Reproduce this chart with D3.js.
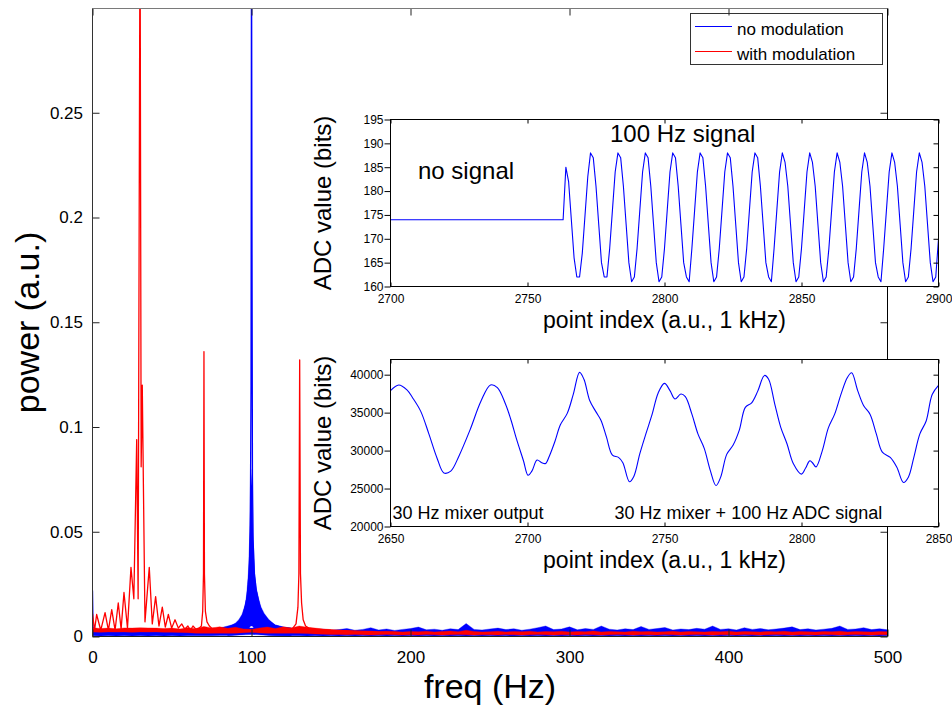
<!DOCTYPE html>
<html lang="en">
  <head>
    <meta charset="UTF-8" />
    <title>Power spectrum with ADC insets</title>
    <script src="https://cdn.jsdelivr.net/npm/d3@7"></script>
    <style>
      body { margin: 0; background: #fff; }
      text { font-family: "Liberation Sans", Arial, Helvetica, sans-serif; fill: #000; }
      .frame { fill: none; stroke: #222; stroke-width: 1px; }
    </style>
  </head>
  <body>
    <svg id="chart" width="952" height="706"></svg>
    <script>
    // ---------- main spectrum data ----------
    var xTicks = [0, 100, 200, 300, 400, 500];
    var yTicks = [0, 0.05, 0.1, 0.15, 0.2, 0.25];
    var yTickLabels = ["0", "0.05", "0.1", "0.15", "0.2", "0.25"];

    // noise floor, 5 Hz grid
    var bandFreq = [
      0, 5, 10, 15, 20, 25, 30, 35, 40, 45,
      50, 55, 60, 65, 70, 75, 80, 85, 90, 95,
      100, 105, 110, 115, 120, 125, 130, 135, 140, 145,
      150, 155, 160, 165, 170, 175, 180, 185, 190, 195,
      200, 205, 210, 215, 220, 225, 230, 235, 240, 245,
      250, 255, 260, 265, 270, 275, 280, 285, 290, 295,
      300, 305, 310, 315, 320, 325, 330, 335, 340, 345,
      350, 355, 360, 365, 370, 375, 380, 385, 390, 395,
      400, 405, 410, 415, 420, 425, 430, 435, 440, 445,
      450, 455, 460, 465, 470, 475, 480, 485, 490, 495,
      500];
    var blueLow = [
      0.0003, 0.0002, 0.0003, 0.0002, 0.0003, 0.0002, 0.0003, 0.0002, 0.0003, 0.0002,
      0.0003, 0.0002, 0.0003, 0.0003, 0.0004, 0.0004, 0.0005, 0.0005, 0.0006, 0.0008,
      0.0010, 0.0008, 0.0006, 0.0005, 0.0004, 0.0003, 0.0003, 0.0002, 0.0003, 0.0002,
      0.0003, 0.0002, 0.0003, 0.0002, 0.0003, 0.0002, 0.0003, 0.0002, 0.0003, 0.0002,
      0.0003, 0.0002, 0.0003, 0.0002, 0.0003, 0.0002, 0.0003, 0.0002, 0.0003, 0.0002,
      0.0003, 0.0002, 0.0003, 0.0002, 0.0003, 0.0002, 0.0003, 0.0002, 0.0003, 0.0002,
      0.0003, 0.0002, 0.0003, 0.0002, 0.0003, 0.0002, 0.0003, 0.0002, 0.0003, 0.0002,
      0.0003, 0.0002, 0.0003, 0.0002, 0.0003, 0.0002, 0.0003, 0.0002, 0.0003, 0.0002,
      0.0003, 0.0002, 0.0003, 0.0002, 0.0003, 0.0002, 0.0003, 0.0002, 0.0003, 0.0002,
      0.0003, 0.0002, 0.0003, 0.0002, 0.0003, 0.0002, 0.0003, 0.0002, 0.0003, 0.0002,
      0.0003];
    var blueHigh = [
      0.0045, 0.0028, 0.0030, 0.0026, 0.0032, 0.0029, 0.0035, 0.0027, 0.0031, 0.0028,
      0.0030, 0.0027, 0.0031, 0.0030, 0.0033, 0.0036, 0.0040, 0.0050, 0.0060, 0.0040,
      0.0040, 0.0040, 0.0070, 0.0055, 0.0045, 0.0040, 0.0036, 0.0034, 0.0032, 0.0035,
      0.0030, 0.0033, 0.0038, 0.0030, 0.0034, 0.0042, 0.0031, 0.0036, 0.0029, 0.0034,
      0.0038, 0.0045, 0.0032, 0.0035, 0.0030, 0.0037, 0.0033, 0.0062, 0.0034, 0.0031,
      0.0036, 0.0040, 0.0033, 0.0037, 0.0030, 0.0035, 0.0042, 0.0050, 0.0033, 0.0036,
      0.0046, 0.0032, 0.0038, 0.0034, 0.0050, 0.0035, 0.0031, 0.0037, 0.0033, 0.0048,
      0.0034, 0.0038, 0.0043, 0.0031, 0.0036, 0.0033, 0.0039, 0.0035, 0.0050, 0.0034,
      0.0037, 0.0031, 0.0042, 0.0034, 0.0038, 0.0032, 0.0036, 0.0040, 0.0046, 0.0033,
      0.0037, 0.0031, 0.0035, 0.0039, 0.0050, 0.0034, 0.0036, 0.0042, 0.0033, 0.0037,
      0.0032];
    var redLow = [
      0.0022, 0.0020, 0.0022, 0.0021, 0.0022, 0.0020, 0.0022, 0.0021, 0.0022, 0.0020,
      0.0020, 0.0019, 0.0018, 0.0016, 0.0015, 0.0015, 0.0016, 0.0015, 0.0016, 0.0018,
      0.0020, 0.0017, 0.0015, 0.0016, 0.0015, 0.0016, 0.0015, 0.0014, 0.0012, 0.0011,
      0.0010, 0.0009, 0.0008, 0.0009, 0.0008, 0.0007, 0.0008, 0.0009, 0.0008, 0.0007,
      0.0008, 0.0007, 0.0009, 0.0008, 0.0007, 0.0008, 0.0009, 0.0008, 0.0007, 0.0008,
      0.0008, 0.0007, 0.0009, 0.0008, 0.0007, 0.0008, 0.0009, 0.0008, 0.0007, 0.0008,
      0.0008, 0.0007, 0.0009, 0.0008, 0.0007, 0.0008, 0.0009, 0.0008, 0.0007, 0.0008,
      0.0008, 0.0007, 0.0009, 0.0008, 0.0007, 0.0008, 0.0009, 0.0008, 0.0007, 0.0008,
      0.0008, 0.0007, 0.0009, 0.0008, 0.0007, 0.0008, 0.0009, 0.0008, 0.0007, 0.0008,
      0.0008, 0.0007, 0.0009, 0.0008, 0.0007, 0.0008, 0.0009, 0.0008, 0.0007, 0.0008,
      0.0008];
    var redHigh = [
      0.0042, 0.0038, 0.0040, 0.0037, 0.0041, 0.0040, 0.0042, 0.0041, 0.0040, 0.0038,
      0.0040, 0.0036, 0.0042, 0.0037, 0.0048, 0.0041, 0.0046, 0.0039, 0.0044, 0.0036,
      0.0034, 0.0040, 0.0045, 0.0038, 0.0046, 0.0040, 0.0050, 0.0044, 0.0040, 0.0036,
      0.0033, 0.0030, 0.0027, 0.0025, 0.0024, 0.0026, 0.0023, 0.0025, 0.0024, 0.0022,
      0.0024, 0.0023, 0.0025, 0.0022, 0.0024, 0.0026, 0.0023, 0.0030, 0.0024, 0.0022,
      0.0023, 0.0025, 0.0022, 0.0024, 0.0023, 0.0025, 0.0022, 0.0024, 0.0023, 0.0025,
      0.0022, 0.0024, 0.0023, 0.0026, 0.0022, 0.0024, 0.0023, 0.0022, 0.0025, 0.0023,
      0.0024, 0.0022, 0.0023, 0.0025, 0.0022, 0.0024, 0.0023, 0.0022, 0.0024, 0.0023,
      0.0025, 0.0022, 0.0024, 0.0023, 0.0022, 0.0024, 0.0023, 0.0025, 0.0022, 0.0024,
      0.0023, 0.0022, 0.0024, 0.0023, 0.0025, 0.0022, 0.0024, 0.0023, 0.0022, 0.0024,
      0.0023];

    // broadened foot of the 100 Hz line (no modulation)
    var bluePeakFreq = [85, 88, 90, 92, 94, 96, 97, 98, 99, 99.5, 100.5, 101, 102, 103, 104.5, 106, 108, 111, 115, 120, 125];
    var bluePeakLow  = [0.0005, 0.0006, 0.0008, 0.0010, 0.0010, 0.0012, 0.0020, 0.0032, 0.0045, 0.0050, 0.0050,
                        0.0045, 0.0032, 0.0020, 0.0012, 0.0010, 0.0008, 0.0006, 0.0005, 0.0005, 0.0004];
    var bluePeakHigh = [0.0045, 0.0056, 0.0065, 0.0080, 0.0105, 0.0150, 0.0200, 0.0300, 0.0500, 0.0800, 0.0700,
                        0.0480, 0.0300, 0.0230, 0.0180, 0.0140, 0.0110, 0.0080, 0.0055, 0.0045, 0.0040];

    // lines
    var blueFreq = [
      0, 0.4, 10, 30, 50, 70, 85, 92, 95, 97,
      98, 98.8, 99.3, 99.7, 100.0, 100.3, 100.6, 101.0, 101.8, 103,
      105, 107, 110, 115, 120, 130, 200, 300, 400, 500];
    var bluePow = [
      0.022, 0.002, 0.0015, 0.0015, 0.0015, 0.0018, 0.003, 0.006, 0.011, 0.018,
      0.025, 0.035, 0.06, 0.12, 0.35, 0.2, 0.076, 0.046, 0.03, 0.022,
      0.015, 0.011, 0.008, 0.005, 0.004, 0.0025, 0.0018, 0.0018, 0.0018, 0.0018];

    var redFreq = [
      0, 1.3, 2.6, 5.2, 7.9, 10.0, 12.1, 14.2, 16.2, 18.0,
      19.8, 22.0, 24.2, 26.0, 27.8, 28.7, 29.9, 30.6, 31.3, 33.0,
      35.7, 37.6, 39.7, 41.8, 43.9, 45.8, 47.7, 49.8, 51.9, 54.0,
      56.1, 58.0, 60.0, 61.6, 63.2, 65.0, 67.0, 68.5, 69.3, 69.8,
      70.1, 70.4, 71.0, 72.0, 73.5, 75.0, 80, 90, 100, 110,
      120, 126, 128, 129.2, 129.8, 130.3, 130.8, 131.5, 132.5, 134,
      136, 140, 150, 200, 300, 400, 500];
    var redPow = [
      0.011, 0.003, 0.0105, 0.003, 0.0114, 0.003, 0.0128, 0.003, 0.016, 0.0035,
      0.021, 0.004, 0.033, 0.018, 0.094, 0.018, 0.35, 0.081, 0.12, 0.007,
      0.033, 0.006, 0.019, 0.005, 0.014, 0.0045, 0.0105, 0.004, 0.008, 0.004,
      0.006, 0.0035, 0.005, 0.003, 0.005, 0.0035, 0.004, 0.005, 0.012, 0.03,
      0.136, 0.03, 0.012, 0.007, 0.005, 0.004, 0.0035, 0.003, 0.003, 0.003,
      0.0035, 0.004, 0.006, 0.014, 0.03, 0.132, 0.03, 0.016, 0.008, 0.005,
      0.004, 0.0035, 0.003, 0.0016, 0.0016, 0.0016, 0.0016];

    // ---------- inset 1: raw ADC, 100 Hz signal switched on ----------
    var flatIndex = [2700, 2763];
    var flatValue = [174, 174];
    var sigStart = 2763;
    var sigValues = [
      174, 185, 182, 174, 166, 162, 162,
      167, 175, 183, 188, 187, 181, 173, 165, 162, 162,
      168, 176, 184, 188, 187, 181, 173, 165, 161, 162,
      168, 176, 184, 188, 187, 181, 173, 165, 161, 162,
      168, 176, 184, 188, 187, 181, 173, 165, 162, 161,
      168, 176, 184, 188, 187, 181, 173, 165, 161, 162,
      168, 176, 184, 188, 187, 181, 173, 165, 161, 162,
      168, 176, 184, 188, 187, 181, 173, 165, 162, 161,
      168, 176, 184, 188, 186, 181, 173, 165, 161, 162,
      168, 176, 184, 188, 186, 181, 173, 165, 161, 162,
      168, 176, 184, 188, 186, 181, 173, 165, 161, 162,
      168, 176, 184, 188, 186, 181, 173, 165, 162, 161,
      168, 176, 184, 188, 186, 181, 173, 165, 161, 162,
      168, 176, 184, 188, 186, 181, 173, 165, 161, 162,
      170];
    var inset1XTicks = [2700, 2750, 2800, 2850, 2900];
    var inset1YTicks = [160, 165, 170, 175, 180, 185, 190, 195];

    // ---------- inset 2: mixer output + ADC signal ----------
    var mixIndex = [
      2650, 2653, 2656, 2658, 2661, 2664, 2667, 2669.5, 2672, 2675,
      2679, 2683, 2686.5, 2689, 2692, 2694, 2696, 2698.5, 2700.2, 2701.6,
      2703.5, 2705.2, 2706.6, 2708, 2710, 2712, 2714.5, 2716.7, 2719, 2720.6,
      2722.7, 2725, 2726.8, 2728.8, 2731, 2733.2, 2734.8, 2737.2, 2738.8, 2741,
      2743.2, 2745.5, 2747.7, 2750, 2752, 2753.8, 2756, 2757.6, 2760, 2762.2,
      2764.5, 2766.7, 2768.8, 2770.5, 2772.7, 2775, 2777.3, 2779.5, 2781.8, 2784,
      2786.5, 2788, 2790.2, 2792.4, 2794.7, 2797, 2800, 2801.5, 2803, 2804,
      2805.3, 2807.6, 2809.8, 2812.1, 2814.4, 2816.7, 2818.3, 2820.5, 2822.7, 2825,
      2827.3, 2829.5, 2832.4, 2834.8, 2837.2, 2839, 2841, 2843.2, 2845.5, 2847.7,
      2850];
    var mixValue = [
      37900, 38650, 38000, 37000, 35200, 32200, 29000, 27050, 27300, 29300,
      32700, 36500, 38650, 38300, 36100, 34000, 31500, 28700, 26750, 27300,
      28750, 28400, 28300, 29300, 31200, 33400, 34900, 37400, 40300, 39400,
      36600, 35100, 34000, 31800, 29400, 29100, 28400, 25900, 26600, 29600,
      32200, 34800, 37600, 38850, 37900, 36800, 37450, 37100, 34800, 32200,
      30300, 27400, 25400, 26500, 29500, 30700, 32700, 35700, 36300, 37800,
      39900, 39400, 36200, 33100, 30900, 28300, 26900, 27700, 28650, 28400,
      27850, 30000, 33000, 34800, 37400, 39600, 40250, 37900, 35900, 34800,
      32200, 29800, 29100, 27800, 25800, 26500, 29100, 32200, 33900, 37400,
      38600];
    var inset2XTicks = [2650, 2700, 2750, 2800, 2850];
    var inset2YTicks = [20000, 25000, 30000, 35000, 40000];

    var BLUE = "#0000ff", RED = "#ff0000";

    var svg = d3.select("#chart");
    var plot = { left: 92.5, right: 887.5, top: 8.5, bottom: 636.5 };

    var xScale = d3.scaleLinear().domain([0, 500]).range([plot.left, plot.right]);
    var yScale = d3.scaleLinear().domain([0, 0.3]).range([plot.bottom, plot.top - 0.5]);

    svg.append("clipPath").attr("id", "mainClip")
       .append("rect")
       .attr("x", plot.left).attr("y", plot.top)
       .attr("width", plot.right - plot.left)
       .attr("height", plot.bottom - plot.top + 2);

    var dataG = svg.append("g").attr("clip-path", "url(#mainClip)");

    function drawBand(freqs, lo, hi, color) {
      var area = d3.area()
                   .x(function(d, i) { return xScale(freqs[i]); })
                   .y0(function(d, i) { return yScale(lo[i]); })
                   .y1(function(d, i) { return yScale(hi[i]); });
      dataG.append("path")
           .datum(freqs)
           .attr("d", area)
           .attr("fill", color)
           .attr("stroke", color)
           .attr("stroke-width", 0.7)
           .attr("stroke-opacity", 0.5);
    }
    function drawLine(freqs, vals, color) {
      var line = d3.line()
                   .x(function(d, i) { return xScale(freqs[i]); })
                   .y(function(d, i) { return yScale(vals[i]); });
      dataG.append("path")
           .datum(freqs)
           .attr("d", line)
           .attr("fill", "none")
           .attr("stroke", color)
           .attr("stroke-width", 1.3)
           .attr("stroke-linejoin", "round");
    }

    // no modulation (blue) first, modulated (red) on top
    drawBand(bandFreq, blueLow, blueHigh, BLUE);
    drawBand(bluePeakFreq, bluePeakLow, bluePeakHigh, BLUE);
    drawLine(blueFreq, bluePow, BLUE);
    drawBand(bandFreq, redLow, redHigh, RED);
    drawLine(redFreq, redPow, RED);

    // legend
    var legend = svg.append("g");
    legend.append("rect")
          .attr("x", 690.5).attr("y", 13.5).attr("width", 192).attr("height", 51)
          .attr("fill", "#fff").attr("stroke", "#333");
    [["no modulation", BLUE, 26], ["with modulation", RED, 51]].forEach(function(e) {
      legend.append("line")
            .attr("x1", 695).attr("x2", 732)
            .attr("y1", e[2] + 0.5).attr("y2", e[2] + 0.5)
            .attr("stroke", e[1]).attr("stroke-width", 1.2);
      legend.append("text")
            .attr("x", 737).attr("y", e[2] + 9)
            .style("font-size", "17px")
            .text(e[0]);
    });

    // main axes (ticks point inwards on every side)
    function noDomain(g) { g.select(".domain").remove(); }
    svg.append("g")
       .attr("transform", "translate(0," + plot.bottom + ")")
       .attr("color", "#222")
       .call(d3.axisBottom(xScale).tickValues(xTicks).tickSizeInner(-7).tickSizeOuter(0).tickPadding(14))
       .call(noDomain)
       .selectAll("text").style("font-size", "17px").attr("fill", "#000");
    svg.append("g")
       .attr("transform", "translate(" + plot.left + ",0)")
       .attr("color", "#222")
       .call(d3.axisLeft(yScale).tickValues(yTicks).tickSizeInner(-7).tickSizeOuter(0).tickPadding(9.5)
               .tickFormat(function(d, i) { return yTickLabels[i]; }))
       .call(noDomain)
       .selectAll("text").style("font-size", "17px").attr("fill", "#000");
    svg.append("g")
       .attr("transform", "translate(0," + plot.top + ")")
       .attr("color", "#222")
       .call(d3.axisTop(xScale).tickValues(xTicks).tickSizeInner(-7).tickSizeOuter(0).tickFormat(""))
       .call(noDomain);
    svg.append("g")
       .attr("transform", "translate(" + plot.right + ",0)")
       .attr("color", "#222")
       .call(d3.axisRight(yScale).tickValues(yTicks).tickSizeInner(-7).tickSizeOuter(0).tickFormat(""))
       .call(noDomain);

    svg.append("line").attr("x1", plot.left).attr("x2", plot.right).attr("y1", plot.top).attr("y2", plot.top)
       .attr("stroke", "#7a7a7a");
    svg.append("line").attr("x1", plot.left).attr("x2", plot.left).attr("y1", plot.top).attr("y2", plot.bottom)
       .attr("stroke", "#333");
    svg.append("line").attr("x1", plot.left).attr("x2", plot.right).attr("y1", plot.bottom).attr("y2", plot.bottom)
       .attr("stroke", "#222");
    svg.append("line").attr("x1", plot.right).attr("x2", plot.right).attr("y1", plot.top).attr("y2", plot.bottom)
       .attr("stroke", "#000");

    svg.append("text")
       .attr("transform", "translate(38.5," + ((plot.top + plot.bottom) / 2) + ")rotate(-90)")
       .attr("text-anchor", "middle")
       .style("font-size", "34px")
       .text("power (a.u.)");
    svg.append("text")
       .attr("x", (plot.left + plot.right) / 2).attr("y", 698)
       .attr("text-anchor", "middle")
       .style("font-size", "34px")
       .text("freq (Hz)");

    // ---------- insets ----------
    function drawInset(cfg) {
      var box = { left: 390.5, right: 938.5, top: cfg.top, bottom: cfg.bottom };
      var xs = d3.scaleLinear().domain(cfg.xDomain).range([box.left, box.right]);
      var ys = d3.scaleLinear().domain(cfg.yDomain).range([box.bottom, box.top]);
      var g = svg.append("g");

      g.append("rect")
       .attr("x", box.left).attr("y", box.top)
       .attr("width", box.right - box.left).attr("height", box.bottom - box.top)
       .attr("fill", "#fff");

      var clipId = cfg.id + "Clip";
      g.append("clipPath").attr("id", clipId)
       .append("rect")
       .attr("x", box.left).attr("y", box.top)
       .attr("width", box.right - box.left).attr("height", box.bottom - box.top);

      var line = d3.line()
                   .x(function(d) { return xs(d[0]); })
                   .y(function(d) { return ys(d[1]); });
      if (cfg.curve) line.curve(cfg.curve);
      g.append("path")
       .datum(cfg.points)
       .attr("clip-path", "url(#" + clipId + ")")
       .attr("d", line)
       .attr("fill", "none")
       .attr("stroke", BLUE)
       .attr("stroke-width", 1.1)
       .attr("stroke-linejoin", "round");

      g.append("rect")
       .attr("x", box.left).attr("y", box.top)
       .attr("width", box.right - box.left).attr("height", box.bottom - box.top)
       .attr("class", "frame").style("stroke", "#000");

      var fmt = d3.format("d");
      g.append("g")
       .attr("transform", "translate(0," + box.bottom + ")")
       .call(d3.axisBottom(xs).tickValues(cfg.xTicks).tickSizeInner(-4).tickSizeOuter(0).tickPadding(8).tickFormat(fmt))
       .call(noDomain)
       .selectAll("text").style("font-size", "12px");
      g.append("g")
       .attr("transform", "translate(0," + box.top + ")")
       .call(d3.axisTop(xs).tickValues(cfg.xTicks).tickSizeInner(-4).tickSizeOuter(0).tickFormat(""))
       .call(noDomain);
      g.append("g")
       .attr("transform", "translate(" + box.left + ",0)")
       .call(d3.axisLeft(ys).tickValues(cfg.yTicks).tickSizeInner(6).tickSizeOuter(0).tickPadding(1).tickFormat(fmt))
       .call(noDomain)
       .selectAll("text").style("font-size", "12px");
      g.append("g")
       .attr("transform", "translate(" + box.right + ",0)")
       .call(d3.axisRight(ys).tickValues(cfg.yTicks).tickSizeInner(-5).tickSizeOuter(0).tickFormat(""))
       .call(noDomain);

      g.append("text")
       .attr("transform", "translate(331," + ((box.top + box.bottom) / 2) + ")rotate(-90)")
       .attr("text-anchor", "middle")
       .style("font-size", "24px")
       .text("ADC value (bits)");
      g.append("text")
       .attr("x", (box.left + box.right) / 2).attr("y", cfg.xLabelY)
       .attr("text-anchor", "middle")
       .style("font-size", "23px")
       .text("point index (a.u., 1 kHz)");

      cfg.notes.forEach(function(n) {
        g.append("text")
         .attr("x", n.x).attr("y", n.y)
         .style("font-size", n.size + "px")
         .text(n.text);
      });
    }

    var inset1Points = flatIndex.map(function(d, i) { return [d, flatValue[i]]; })
      .concat(sigValues.map(function(v, i) { return [sigStart + i, v]; }));
    var inset2Points = mixIndex.map(function(d, i) { return [d, mixValue[i]]; });

    drawInset({
      id: "inset1", top: 119.5, bottom: 286.5,
      xDomain: [2700, 2900], yDomain: [160, 195],
      xTicks: inset1XTicks, yTicks: inset1YTicks,
      points: inset1Points, xLabelY: 328,
      notes: [
        { text: "no signal", x: 418, y: 179, size: 24 },
        { text: "100 Hz signal", x: 610, y: 142, size: 24 }
      ]
    });
    drawInset({
      id: "inset2", top: 359.5, bottom: 526.5,
      xDomain: [2650, 2850], yDomain: [20000, 42000],
      xTicks: inset2XTicks, yTicks: inset2YTicks,
      points: inset2Points, xLabelY: 568,
      curve: d3.curveCatmullRom.alpha(0.5),
      notes: [
        { text: "30 Hz mixer output", x: 392.5, y: 519, size: 18 },
        { text: "30 Hz mixer + 100 Hz ADC signal", x: 614.6, y: 519, size: 18 }
      ]
    });
    </script>
  </body>
</html>
